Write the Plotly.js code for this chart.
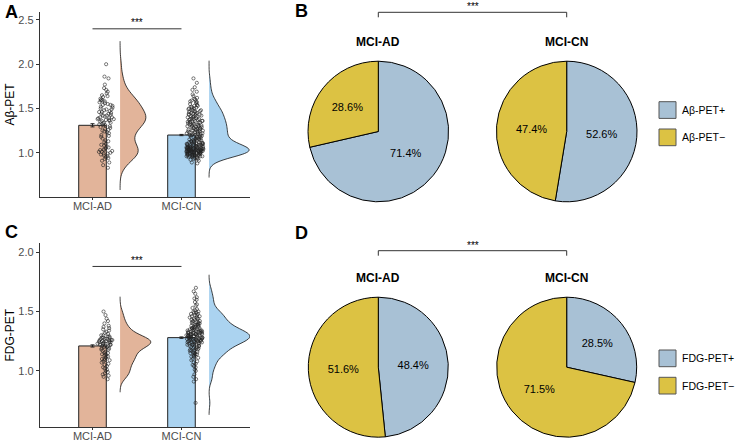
<!DOCTYPE html>
<html>
<head>
<meta charset="utf-8">
<script src="https://cdn.plot.ly/plotly-3.0.1.min.js"></script>
<style>
  html, body { margin:0; padding:0; background:#fff; }
  #chart { width:736px; height:442px; }
</style>
</head>
<body>
<div id="chart"></div>
<script>
// 그룹
const groups = ["MCI-AD", "MCI-CN"];

// A: Aβ-PET SUVR per subject
const abAD = [0.83,0.86,0.89,0.91,0.93,0.94,0.95,0.96,0.97,0.98,0.99,0.99,
  1.00,1.01,1.01,1.02,1.03,1.03,1.04,1.05,1.06,1.07,1.08,1.09,
  1.10,1.12,1.13,1.14,1.16,1.18,1.19,1.20,1.22,1.23,1.24,
  1.25,1.26,1.27,1.28,1.29,1.30,1.31,1.31,1.32,1.33,1.34,1.34,
  1.35,1.36,1.36,1.37,1.37,1.38,1.38,1.39,1.39,1.40,1.40,1.41,1.42,1.42,1.43,1.44,1.44,
  1.45,1.46,1.46,1.47,1.48,1.49,1.49,1.50,1.51,1.52,1.53,1.54,1.54,
  1.55,1.56,1.57,1.58,1.59,1.59,1.60,1.61,1.63,1.64,1.65,1.67,1.69,
  1.71,1.73,1.77,1.84,1.86,2.00];
const abCN = [0.88,0.89,0.91,0.92,0.93,0.93,0.94,0.94,
  0.95,0.95,0.95,0.96,0.96,0.96,0.96,0.97,0.97,0.97,0.97,0.97,0.98,0.98,0.98,0.98,0.98,0.99,0.99,0.99,0.99,0.99,0.99,0.96,0.97,0.98,
  1.00,1.00,1.00,1.00,1.00,1.00,1.00,1.01,1.01,1.01,1.01,1.01,1.01,1.01,1.01,1.02,1.02,1.02,1.02,1.02,1.02,1.02,1.02,
  1.03,1.03,1.03,1.03,1.03,1.03,1.03,1.03,1.04,1.04,1.04,1.04,1.04,1.04,1.04,1.04,1.04,
  1.05,1.05,1.05,1.05,1.05,1.05,1.05,1.06,1.06,1.06,1.06,1.06,1.06,1.06,1.07,1.07,1.07,1.07,1.07,1.07,
  1.08,1.08,1.08,1.08,1.08,1.09,1.09,1.09,1.09,1.09,
  1.10,1.10,1.10,1.10,1.11,1.11,1.11,1.11,1.12,1.12,1.12,1.12,1.13,1.13,1.13,1.14,1.14,1.14,
  1.15,1.15,1.15,1.16,1.16,1.16,1.17,1.17,1.17,1.18,1.18,1.19,1.19,1.19,
  1.20,1.20,1.20,1.21,1.21,1.21,1.22,1.22,1.22,1.23,1.23,1.23,1.24,1.24,1.24,
  1.25,1.25,1.25,1.26,1.26,1.26,1.27,1.27,1.27,1.28,1.28,1.29,1.29,1.29,
  1.30,1.30,1.30,1.31,1.31,1.31,1.32,1.32,1.32,1.33,1.33,1.34,1.34,1.34,
  1.35,1.35,1.35,1.36,1.36,1.36,1.37,1.37,1.38,1.38,1.38,1.39,1.39,
  1.40,1.40,1.41,1.41,1.41,1.42,1.42,1.43,1.43,1.44,1.44,1.44,
  1.45,1.45,1.46,1.46,1.47,1.47,1.48,1.48,1.49,1.49,
  1.50,1.50,1.51,1.51,1.52,1.53,1.53,1.54,1.55,1.56,1.57,1.58,1.58,1.59,
  1.60,1.61,1.62,1.64,1.66,1.69,1.71,1.74,1.79,1.84];
const abMean = [1.31, 1.20];
const abSE = [0.018, 0.007];

// C: FDG-PET SUVR per subject
const fdgAD = [0.93,0.95,0.96,0.97,0.98,0.99,1.00,1.01,1.02,1.03,1.04,1.05,1.06,
  1.07,1.08,1.09,1.10,1.10,1.11,1.12,1.13,1.14,1.15,1.15,1.16,1.17,1.18,1.18,1.09,1.12,1.14,
  1.19,1.19,1.20,1.20,1.21,1.21,1.22,1.22,1.22,1.23,1.23,1.23,1.24,1.24,1.24,1.25,1.25,1.25,1.25,1.26,1.26,1.26,1.27,1.27,1.27,1.28,1.28,1.29,1.29,1.30,1.30,1.31,1.32,1.21,1.24,1.26,1.23,1.28,
  1.33,1.34,1.35,1.36,1.37,1.38,1.40,1.42,1.44,1.47,1.50];
const fdgCN = [0.73,0.91,0.93,0.95,0.97,1.00,1.01,1.03,1.04,1.05,1.06,1.07,1.08,1.09,1.10,
  1.11,1.12,1.12,1.13,1.13,1.14,1.14,1.15,1.15,1.15,1.16,1.16,1.17,1.17,1.17,1.18,1.18,1.19,1.19,1.19,1.20,1.20,1.20,1.21,1.21,1.21,1.22,1.22,1.22,1.22,
  1.23,1.23,1.23,1.23,1.24,1.24,1.24,1.24,1.24,1.25,1.25,1.25,1.25,1.25,1.26,1.26,1.26,1.26,1.26,1.26,1.27,1.27,1.27,1.27,1.27,1.27,1.28,1.28,1.28,1.28,1.28,1.28,
  1.29,1.29,1.29,1.29,1.29,1.29,1.30,1.30,1.30,1.30,1.30,1.30,1.30,1.31,1.31,1.31,1.31,1.31,1.31,1.32,1.32,1.32,1.32,1.32,1.32,1.33,1.33,1.33,1.33,1.33,
  1.34,1.34,1.34,1.34,1.34,1.35,1.35,1.35,1.35,1.36,1.36,1.36,1.36,1.37,1.37,1.37,1.38,1.38,1.38,
  1.39,1.39,1.39,1.40,1.40,1.40,1.41,1.41,1.41,1.42,1.42,1.43,1.43,1.44,1.44,1.45,1.45,1.46,1.46,1.47,1.47,1.48,1.48,1.49,1.49,1.50,1.50,1.44,
  1.51,1.52,1.53,1.55,1.56,1.58,1.60,1.61,1.62,1.65,1.67,1.70];
const fdgMean = [1.21, 1.28];
const fdgSE = [0.009, 0.006];

// B, D: 비율 (+, −)
const abLabels = ["Aβ-PET+", "Aβ-PET−"];
const abPieAD = [71.4, 28.6];
const abPieCN = [52.6, 47.4];
const fdgLabels = ["FDG-PET+", "FDG-PET−"];
const fdgPieAD = [48.4, 51.6];
const fdgPieCN = [28.5, 71.5];

const yTicksA = [1.0, 1.5, 2.0, 2.5];
const yTicksC = [1.0, 1.5, 2.0];

const groupColors = ["#E2B49A", "#ABD3F0"];
const pieColors = ["#A8C1D5", "#DCC243"];
const FONT = "Liberation Sans, Arial, sans-serif";

// 픽셀 -> paper 좌표
const px = v => v / 736;
const py = v => 1 - v / 442;

// 레인클라우드 패널 (bar + 점 + 반쪽 바이올린)
function raincloud(xa, ya, ad, cn, means, se, bws, spans, vws){
  const out = [];
  out.push({
    type: "bar", x: [1, 2], y: means, width: 0.31, xaxis: xa, yaxis: ya,
    marker: {color: groupColors, line: {color: "#222", width: 1}},
    error_y: {type: "data", array: se, visible: true, color: "#222", thickness: 1, width: 2},
    hoverinfo: "skip", showlegend: false
  });
  [ad, cn].forEach((vals, i) => {
    out.push({
      type: "violin", x0: i + 1.31, y: vals, xaxis: xa, yaxis: ya,
      side: "positive", width: vws[i], bandwidth: bws[i],
      spanmode: "manual", span: spans[i], points: false,
      fillcolor: groupColors[i], line: {color: "#111", width: 0.8},
      box: {visible: false}, meanline: {visible: false},
      hoverinfo: "skip", showlegend: false
    });
    out.push({
      type: "box", x0: i + 1.15, y: vals, xaxis: xa, yaxis: ya,
      width: 0.19, boxpoints: "all", jitter: 1, pointpos: 0,
      fillcolor: "rgba(0,0,0,0)", line: {color: "rgba(0,0,0,0)", width: 0},
      marker: {size: 3.2, color: "rgba(255,255,255,0)", line: {color: "#222", width: 0.6}},
      hoverinfo: "skip", showlegend: false
    });
  });
  return out;
}

function pie(values, labels, x0, x1, y0, y1){
  return {
    type: "pie", values: values, labels: labels, sort: false,
    direction: "clockwise", rotation: 0,
    domain: {x: [px(x0), px(x1)], y: [py(y1), py(y0)]},
    marker: {colors: pieColors, line: {color: "#000", width: 1}},
    texttemplate: "%{value:.1f}%", textposition: "inside",
    insidetextorientation: "horizontal",
    textfont: {size: 11, color: "#000", family: FONT},
    hoverinfo: "skip", showlegend: false
  };
}

const data = [
  ...raincloud("x", "y", abAD, abCN, abMean, abSE, [0.075, 0.05], [[0.58, 2.26], [0.72, 2.04]], [0.58, 0.9]),
  ...raincloud("x2", "y2", fdgAD, fdgCN, fdgMean, fdgSE, [0.04, 0.037], [[0.82, 1.625], [0.63, 1.81]], [0.69, 0.915]),
  pie(abPieAD, abLabels, 308, 448.6, 61.2, 201.8),
  pie(abPieCN, abLabels, 496.4, 637, 61.2, 201.8),
  pie(fdgPieAD, fdgLabels, 308, 448.6, 297.2, 437.2),
  pie(fdgPieCN, fdgLabels, 496.4, 637, 297.2, 437.2)
];

function xAxis(anchor){
  return {
    domain: [px(40), px(250)], anchor: anchor, type: "linear", range: [0.41, 2.77],
    tickvals: [1, 2], ticktext: groups, ticklabelstandoff: -3,
    showline: true, linecolor: "#333", linewidth: 1.2, ticks: "outside", ticklen: 2,
    tickcolor: "#333", tickfont: {size: 11, color: "#4D4D4D"},
    showgrid: false, zeroline: false, fixedrange: true
  };
}
function yAxis(anchor, top, bottom, range, ticks, title){
  return {
    domain: [py(bottom), py(top)], anchor: anchor, range: range,
    tickvals: ticks, tickformat: ".1f",
    showline: true, linecolor: "#333", linewidth: 1.2, ticks: "outside", ticklen: 3,
    tickcolor: "#333", tickfont: {size: 11, color: "#4D4D4D"},
    title: {text: title, font: {size: 12, color: "#000"}, standoff: 1},
    showgrid: false, zeroline: false, fixedrange: true
  };
}

const ann = [];
const shapes = [];
const note = (o) => ann.push(Object.assign({xref: "paper", yref: "paper", showarrow: false,
  xanchor: "center", yanchor: "middle"}, o));

// 패널 문자
[["A", 3, 12], ["B", 293, 11], ["C", 3, 232], ["D", 293, 233]].forEach(([t, x, y]) => {
  note({text: "<b>" + t + "</b>", x: px(x), y: py(y), xanchor: "left", font: {size: 18, color: "#000"}});
});

// 파이 제목
[41.7, 278.3].forEach(y => {
  groups.forEach((g, i) => {
    note({text: "<b>" + g + "</b>", x: px(i === 0 ? 378.3 : 566.7), y: py(y), font: {size: 12, color: "#000"}});
  });
});

// 유의성 선 (A, C)
[["x", "y", 2.40], ["x2", "y2", 1.88]].forEach(([xr, yr, v]) => {
  shapes.push({type: "line", xref: xr, yref: yr, x0: 1, x1: 2, y0: v, y1: v, line: {color: "#333", width: 1}});
  note({text: "***", xref: xr, yref: yr, x: 1.5, y: v, yshift: 6, font: {size: 10, color: "#000"}});
});

// 괄호 (B, D)
[[12.3, 7], [250.7, 245]].forEach(([y, ty]) => {
  shapes.push({type: "path", xref: "paper", yref: "paper",
    path: `M ${px(378.3)} ${py(y + 5)} L ${px(378.3)} ${py(y)} L ${px(566.7)} ${py(y)} L ${px(566.7)} ${py(y + 5)}`,
    line: {color: "#333", width: 1}});
  note({text: "***", x: px(472.5), y: py(ty), font: {size: 10, color: "#000"}});
});

// 범례 (B, D)
[[abLabels, 101.7], [fdgLabels, 350]].forEach(([labs, top]) => {
  labs.forEach((lab, i) => {
    const y0 = top + i * 27.3;
    shapes.push({type: "rect", xref: "paper", yref: "paper", x0: px(659), x1: px(676),
      y0: py(y0 + 16.7), y1: py(y0), fillcolor: pieColors[i], line: {color: "#555", width: 1}});
    note({text: lab, x: px(680), y: py(y0 + 8.3), xanchor: "left", font: {size: 10.5, color: "#000"}});
  });
});

const layout = {
  width: 736, height: 442,
  margin: {l: 0, r: 0, t: 0, b: 0},
  paper_bgcolor: "#fff", plot_bgcolor: "#fff",
  font: {family: FONT, color: "#000"},
  showlegend: false,
  violinmode: "overlay", boxmode: "overlay", barmode: "overlay",
  xaxis: xAxis("y"),
  yaxis: yAxis("x", 12, 197, [0.5, 2.59], yTicksA, "Aβ-PET"),
  xaxis2: xAxis("y2"),
  yaxis2: yAxis("x2", 243.3, 427, [0.527, 2.075], yTicksC, "FDG-PET"),
  annotations: ann,
  shapes: shapes
};

Plotly.newPlot("chart", data, layout, {displayModeBar: false, staticPlot: true});
</script>
</body>
</html>
